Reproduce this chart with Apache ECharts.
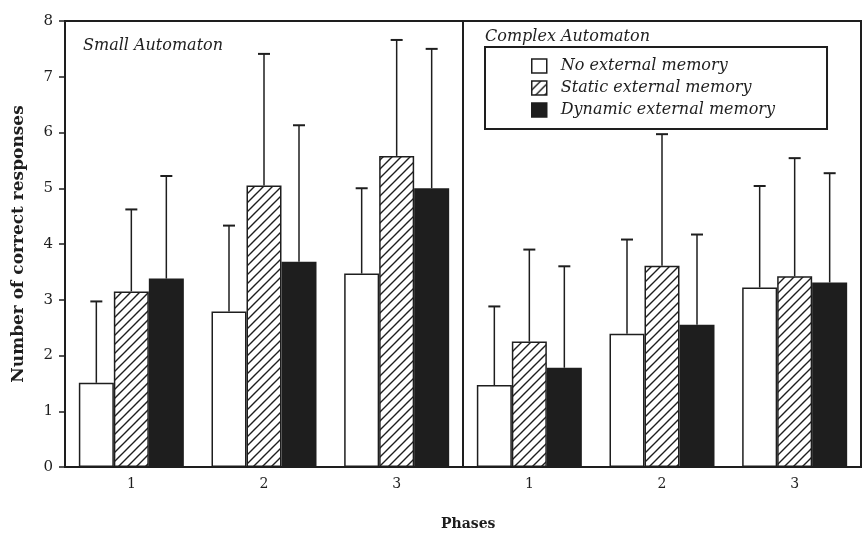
<!DOCTYPE html>
<html>
<head>
<meta charset="utf-8">
<script src="https://cdn.jsdelivr.net/npm/echarts@6/dist/echarts.min.js"></script>
<style>
  html, body { margin: 0; padding: 0; background: #fff; }
  #chart { width: 865px; height: 533px; }
</style>
</head>
<body>
<div id="chart"></div>
<script>
// phases on the x axis (same in both panels)
var phases = ['1', '2', '3'];
var seriesNames = ['No external memory', 'Static external memory', 'Dynamic external memory'];

// Small automaton: means and top of the error bar
var smallNone = [1.51, 2.79, 3.47];
var smallNoneTop = [2.97, 4.33, 5.00];
var smallStatic = [3.15, 5.05, 5.58];
var smallStaticTop = [4.62, 7.41, 7.66];
var smallDynamic = [3.38, 3.68, 5.00];
var smallDynamicTop = [5.22, 6.13, 7.50];

// Complex automaton
var complexNone = [1.47, 2.39, 3.22];
var complexNoneTop = [2.88, 4.08, 5.04];
var complexStatic = [2.25, 3.61, 3.42];
var complexStaticTop = [3.90, 5.97, 5.54];
var complexDynamic = [1.78, 2.55, 3.31];
var complexDynamicTop = [3.60, 4.17, 5.27];

var ink = '#1e1e1e';
var serif = 'DejaVu Serif';
var barW = 35;

// diagonal hatch tile
function hatchPattern() {
  var c = document.createElement('canvas');
  c.width = 9; c.height = 9;
  var g = c.getContext('2d');
  g.fillStyle = '#fff';
  g.fillRect(0, 0, 9, 9);
  g.strokeStyle = ink;
  g.lineWidth = 1.4;
  g.beginPath();
  g.moveTo(-1, 10); g.lineTo(10, -1);
  g.moveTo(-1, 1); g.lineTo(1, -1);
  g.moveTo(8, 10); g.lineTo(10, 8);
  g.stroke();
  return { image: c, repeat: 'repeat' };
}
var hatch = hatchPattern();

var fills = ['#fff', hatch, ink];

function barSeries(name, fill, data, gridIdx) {
  return {
    name: name,
    type: 'bar',
    xAxisIndex: gridIdx,
    yAxisIndex: gridIdx,
    data: data,
    barWidth: barW,
    barGap: '0%',
    itemStyle: { color: fill, borderColor: ink, borderWidth: 1.5 },
    emphasis: { disabled: true },
    z: 2
  };
}

function errSeries(means, tops, offset, gridIdx) {
  var d = [];
  for (var i = 0; i < means.length; i++) d.push([i, means[i], tops[i]]);
  return {
    type: 'custom',
    xAxisIndex: gridIdx,
    yAxisIndex: gridIdx,
    data: d,
    z: 3,
    silent: true,
    renderItem: function (params, api) {
      var lo = api.coord([api.value(0), api.value(1)]);
      var hi = api.coord([api.value(0), api.value(2)]);
      var x = lo[0] + offset;
      return {
        type: 'group',
        children: [
          { type: 'line', shape: { x1: x, y1: lo[1], x2: x, y2: hi[1] }, style: { stroke: ink, lineWidth: 1.5 } },
          { type: 'line', shape: { x1: x - 6, y1: hi[1], x2: x + 6, y2: hi[1] }, style: { stroke: ink, lineWidth: 2 } }
        ]
      };
    }
  };
}

function xAx(gridIdx) {
  return {
    type: 'category',
    gridIndex: gridIdx,
    data: phases,
    axisLine: { lineStyle: { color: ink, width: 2 } },
    axisTick: { show: false },
    axisLabel: { color: ink, fontFamily: serif, fontSize: 14, margin: 10 }
  };
}

function yAx(gridIdx, visible) {
  return {
    type: 'value',
    gridIndex: gridIdx,
    min: 0, max: 8, interval: 1,
    show: visible,
    splitLine: { show: false },
    axisLine: { show: true, lineStyle: { color: ink, width: 2 } },
    axisTick: { show: true, length: 6, lineStyle: { color: ink, width: 1.5 } },
    axisLabel: { color: ink, fontFamily: serif, fontSize: 15, margin: 12 },
    name: visible ? 'Number of correct responses' : '',
    nameLocation: 'middle',
    nameGap: 38,
    nameTextStyle: { color: ink, fontFamily: serif, fontWeight: 'bold', fontSize: 17 }
  };
}

var chart = echarts.init(document.getElementById('chart'));

var series = [
  barSeries(seriesNames[0], fills[0], smallNone, 0),
  barSeries(seriesNames[1], fills[1], smallStatic, 0),
  barSeries(seriesNames[2], fills[2], smallDynamic, 0),
  errSeries(smallNone, smallNoneTop, -barW, 0),
  errSeries(smallStatic, smallStaticTop, 0, 0),
  errSeries(smallDynamic, smallDynamicTop, barW, 0),
  barSeries(seriesNames[0], fills[0], complexNone, 1),
  barSeries(seriesNames[1], fills[1], complexStatic, 1),
  barSeries(seriesNames[2], fills[2], complexDynamic, 1),
  errSeries(complexNone, complexNoneTop, -barW, 1),
  errSeries(complexStatic, complexStaticTop, 0, 1),
  errSeries(complexDynamic, complexDynamicTop, barW, 1)
];

var option = {
  backgroundColor: '#fff',
  animation: false,
  title: [
    { text: 'Small Automaton', left: 78, top: 33,
      textStyle: { fontFamily: serif, fontStyle: 'italic', fontWeight: 'normal', fontSize: 16, color: ink } },
    { text: 'Complex Automaton', left: 480, top: 24,
      textStyle: { fontFamily: serif, fontStyle: 'italic', fontWeight: 'normal', fontSize: 16, color: ink } },
    { text: 'Phases', left: 436, top: 512,
      textStyle: { fontFamily: serif, fontWeight: 'bold', fontSize: 14, color: ink } }
  ],
  legend: {
    data: seriesNames,
    orient: 'vertical',
    left: 485,
    top: 47,
    icon: 'rect',
    itemWidth: 15,
    itemHeight: 14,
    itemGap: 6,
    padding: [11, 52, 11, 46],
    borderColor: ink,
    borderWidth: 2,
    backgroundColor: '#fff',
    selectedMode: false,
    textStyle: { fontFamily: serif, fontStyle: 'italic', fontSize: 16, color: ink, padding: [0, 0, 0, 9] },
    itemStyle: { borderColor: ink, borderWidth: 1.5 }
  },
  grid: [
    { left: 65, right: 402, top: 21, bottom: 66, show: true, borderColor: ink, borderWidth: 2 },
    { left: 463, right: 4, top: 21, bottom: 66, show: true, borderColor: ink, borderWidth: 2 }
  ],
  xAxis: [xAx(0), xAx(1)],
  yAxis: [yAx(0, true), yAx(1, false)],
  series: series
};

chart.setOption(option);
</script>
</body>
</html>
